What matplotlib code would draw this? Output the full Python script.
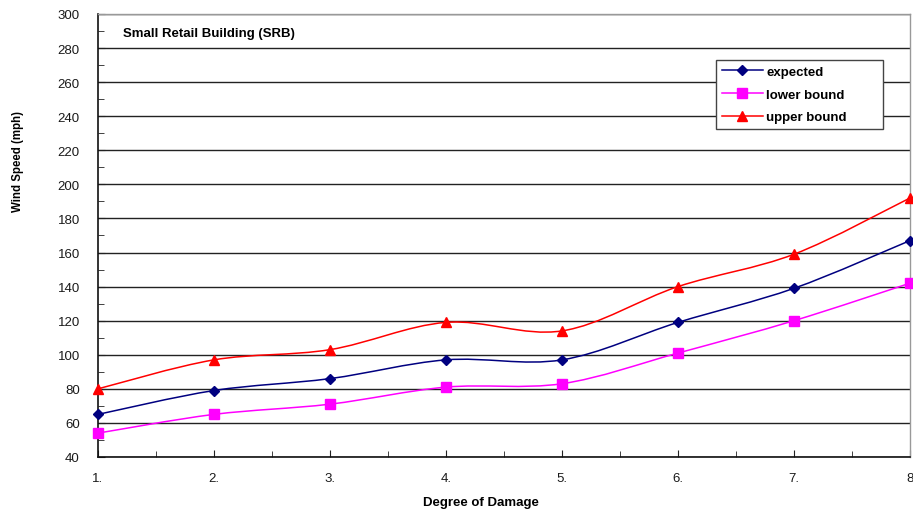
import numpy as np
import matplotlib.pyplot as plt
from matplotlib.path import Path
from matplotlib.patches import PathPatch
from matplotlib.lines import Line2D
from matplotlib.ticker import MultipleLocator, FixedLocator

plt.rcParams['font.family'] = ['Liberation Sans', 'DejaVu Sans']

# degree of damage and wind speeds (mph)
damage = [1, 2, 3, 4, 5, 6, 7, 8]
tick_labels = ["1.", "2.", "3.", "4.", "5.", "6.", "7.", "8"]
expected = [65, 79, 86, 97, 97, 119, 139, 167]
lower_bound = [54, 65, 71, 81, 83, 101, 120, 142]
upper_bound = [80, 97, 103, 119, 114, 140, 159, 192]


def smooth_path(xs, ys):
    """Excel-like smoothed line: cubic Bezier through every point."""
    pts = np.column_stack([xs, ys]).astype(float)
    n = len(pts)
    verts = [pts[0]]
    codes = [Path.MOVETO]
    for i in range(n - 1):
        p0 = pts[i - 1] if i > 0 else pts[i]
        p1 = pts[i]
        p2 = pts[i + 1]
        p3 = pts[i + 2] if i + 2 < n else pts[i + 1]
        c1 = p1 + (p2 - p0) / 6.0
        c2 = p2 - (p3 - p1) / 6.0
        verts += [c1, c2, p2]
        codes += [Path.CURVE4] * 3
    return Path(verts, codes)


def main():
    fig = plt.figure(figsize=(9.13, 5.10), dpi=100)
    ax = fig.add_axes([0.1073, 0.102, 0.8894, 0.8686])

    series = [
        ("expected", expected, "#000080", "D", 5),
        ("lower bound", lower_bound, "#FF00FF", "s", 6.5),
        ("upper bound", upper_bound, "#FF0000", "^", 7),
    ]
    handles = []
    for name, vals, color, marker, ms in series:
        ax.add_patch(PathPatch(smooth_path(damage, vals), facecolor="none",
                               edgecolor=color, lw=1.1, zorder=3, clip_on=False))
        ax.plot(damage, vals, linestyle="none", marker=marker, ms=ms,
                color=color, mec=color, zorder=4, clip_on=False)
        handles.append(Line2D([], [], color=color, lw=1.1, marker=marker,
                              ms=ms, mec=color, label=name))

    ax.set_xlim(1, 8)
    ax.set_ylim(40, 300)
    ax.xaxis.set_major_locator(FixedLocator(damage))
    ax.set_xticklabels(tick_labels)
    ax.xaxis.set_minor_locator(MultipleLocator(0.5))
    ax.yaxis.set_major_locator(MultipleLocator(20))
    ax.yaxis.set_minor_locator(MultipleLocator(10))

    ax.grid(True, axis="y", which="major", color="#222222", lw=1.0, zorder=1)
    ax.tick_params(axis="both", which="both", direction="in", color="#222222")
    ax.tick_params(axis="both", which="major", length=5, labelsize=9.5,
                   labelcolor="#1a1a1a")
    ax.tick_params(axis="both", which="minor", length=4)
    ax.tick_params(axis="y", which="major", pad=13)
    ax.tick_params(axis="x", which="major", pad=11)

    for side in ("left", "bottom"):
        ax.spines[side].set_color("#111111")
        ax.spines[side].set_linewidth(1.2)
    for side in ("top", "right"):
        ax.spines[side].set_color("#999999")
        ax.spines[side].set_linewidth(1.0)

    ax.text(0.031, 0.957, "Small Retail Building (SRB)", transform=ax.transAxes,
            fontsize=9.5, fontweight="bold", va="center", ha="left")

    leg = ax.legend(handles=handles, loc="upper left",
                    bbox_to_anchor=(0.761, 0.897, 0.206, 0.0), mode="expand",
                    prop={"size": 9.5, "weight": "bold"}, frameon=True,
                    fancybox=False, framealpha=1, borderpad=0.45,
                    labelspacing=0.8, handlelength=3.1, handletextpad=0.25,
                    borderaxespad=0)
    leg.get_frame().set_edgecolor("#444444")
    leg.get_frame().set_linewidth(1.0)
    leg.set_zorder(5)

    fig.text(481 / 913, 1 - 503 / 510, "Degree of Damage", fontsize=9.5,
             fontweight="bold", ha="center", va="center")
    fig.text(18 / 913, 1 - 162 / 510, "Wind Speed (mph)", fontsize=8.3,
             fontweight="bold", ha="center", va="center", rotation=90)

    fig.savefig("out.png", dpi=100)


if __name__ == "__main__":
    main()
